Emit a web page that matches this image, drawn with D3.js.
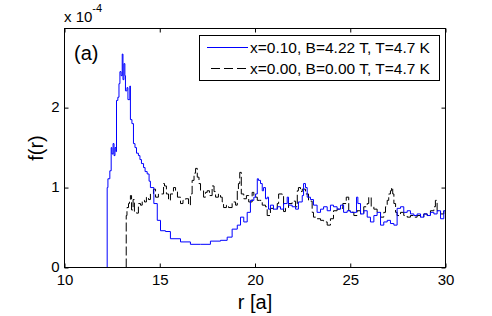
<!DOCTYPE html>
<html>
<head>
<meta charset="utf-8">
<script src="https://cdn.jsdelivr.net/npm/d3@7"></script>
<style>
  body { margin: 0; background: #fff; }
  svg { display: block; font-family: "Liberation Sans", Arial, sans-serif; }
</style>
</head>
<body>
<div id="chart"></div>
<script>
// ========== Data (f in units of 1e-4) ==========
const blueR = [12.24, 12.24, 12.28, 12.38, 12.45, 12.49, 12.55, 12.60, 12.65, 12.70, 12.73, 12.80, 12.86, 12.91, 12.97,
    13.03, 13.07, 13.12, 13.17, 13.20, 13.28, 13.33, 13.43, 13.46, 13.54, 13.62, 13.70, 13.78, 13.88, 13.96, 14.04,
    14.15, 14.23, 14.34, 14.44, 14.51, 14.69, 14.87, 15.04, 15.30, 15.56, 16.09, 16.61, 17.14, 17.66, 18.19, 18.54,
    18.80, 19.07, 19.24, 19.41, 19.59, 19.76, 19.94, 20.03, 20.12, 20.18, 20.29, 20.38, 20.45, 20.55, 20.64, 20.71,
    20.81, 20.97, 21.17, 21.34, 21.50, 21.69, 21.76, 21.95, 22.13, 22.28, 22.48, 22.55, 22.65, 22.74, 22.91, 23.07,
    23.26, 23.44, 23.60, 23.79, 23.96, 24.12, 24.31, 24.49, 24.65, 24.84, 25.01, 25.19, 25.33, 25.40, 25.54, 25.71,
    25.89, 26.06, 26.24, 26.41, 26.59, 26.76, 26.94, 27.11, 27.29, 27.46, 27.64, 27.81, 27.99, 28.16, 28.34, 28.51,
    28.69, 28.86, 29.04, 29.21, 29.39, 29.56, 29.74, 29.91, 30.0];
const blueF = [0, 1.00, 1.11, 1.21, 1.50, 1.42, 1.55, 1.40, 1.50, 1.45, 2.09, 2.13, 2.30, 2.45, 2.40,
    2.67, 2.35, 2.55, 2.40, 2.21, 2.25, 2.10, 2.27, 1.85, 1.80, 1.55, 1.50, 1.43, 1.40, 1.35, 1.30,
    1.25, 1.20, 1.17, 1.08, 1.00, 0.80, 0.59, 0.46, 0.45, 0.36, 0.32, 0.29, 0.29, 0.33, 0.34, 0.38,
    0.48, 0.53, 0.63, 0.57, 0.69, 0.84, 0.88, 0.92, 1.11, 1.09, 1.05, 0.96, 1.00, 0.86, 0.88, 0.73,
    0.78, 0.73, 0.76, 0.73, 0.80, 0.88, 0.78, 0.76, 0.73, 0.82, 0.90, 1.05, 1.00, 0.88, 0.85, 0.78,
    0.69, 0.73, 0.76, 0.71, 0.78, 0.76, 0.73, 0.78, 0.69, 0.71, 0.69, 0.69, 0.88, 0.80, 0.67, 0.71,
    0.63, 0.57, 0.65, 0.69, 0.53, 0.57, 0.59, 0.55, 0.53, 0.74, 0.76, 0.69, 0.71, 0.67, 0.65, 0.67,
    0.63, 0.67, 0.65, 0.69, 0.67, 0.71, 0.61, 0.71, 0.69];

const blackR = [13.24, 13.24, 13.28, 13.36, 13.41, 13.46, 13.52, 13.60, 13.67, 13.78, 13.88, 13.99, 14.08, 14.20, 14.30,
    14.41, 14.51, 14.67, 14.78, 14.93, 15.04, 15.20, 15.25, 15.35, 15.46, 15.56, 15.72, 15.83, 15.93, 16.09, 16.22,
    16.35, 16.51, 16.61, 16.70, 16.80, 16.88, 16.97, 17.06, 17.14, 17.30, 17.40, 17.49, 17.61, 17.75, 17.85, 17.93,
    18.08, 18.19, 18.28, 18.35, 18.50, 18.61, 18.80, 18.98, 19.07, 19.13, 19.20, 19.28, 19.41, 19.55, 19.67, 19.85,
    19.94, 20.12, 20.24, 20.38, 20.55, 20.64, 20.81, 20.97, 21.17, 21.24, 21.43, 21.50, 21.60, 21.76, 21.95, 22.13,
    22.22, 22.28, 22.39, 22.48, 22.65, 22.81, 23.00, 23.07, 23.26, 23.44, 23.60, 23.79, 23.96, 24.12, 24.31, 24.49,
    24.61, 24.79, 24.92, 25.10, 25.19, 25.36, 25.54, 25.71, 25.89, 25.97, 26.10, 26.24, 26.41, 26.59, 26.76, 26.85,
    26.94, 27.02, 27.11, 27.17, 27.23, 27.29, 27.38, 27.46, 27.64, 27.81, 27.99, 28.16, 28.34, 28.51, 28.69, 28.86,
    29.04, 29.21, 29.39, 29.47, 29.56, 29.74, 29.91, 30.0];
const blackF = [0, 0.65, 0.75, 0.80, 0.85, 0.90, 0.72, 0.85, 0.70, 0.68, 0.80, 0.78, 0.84, 0.82, 0.88,
    0.85, 0.92, 0.98, 0.88, 0.92, 0.92, 1.05, 1.02, 0.92, 0.84, 0.92, 1.00, 0.95, 0.88, 0.80, 0.84,
    0.86, 0.78, 0.92, 1.09, 1.18, 1.24, 1.13, 1.05, 0.96, 0.88, 0.94, 0.96, 0.90, 1.02, 0.95, 0.88,
    0.92, 0.88, 0.82, 0.75, 0.78, 0.75, 0.82, 0.78, 0.96, 1.05, 1.19, 0.92, 0.86, 0.90, 0.82, 0.94,
    0.88, 0.84, 0.84, 0.78, 0.76, 0.65, 0.74, 0.73, 0.80, 0.92, 0.91, 0.70, 0.74, 0.80, 0.83, 0.76,
    0.96, 1.00, 0.95, 0.98, 0.92, 0.83, 0.69, 0.63, 0.61, 0.59, 0.57, 0.53, 0.61, 0.71, 0.73, 0.74,
    0.80, 0.88, 0.71, 0.69, 0.65, 0.71, 0.67, 0.76, 0.80, 0.88, 0.76, 0.73, 0.69, 0.63, 0.69, 0.76,
    0.84, 0.92, 0.96, 1.00, 0.92, 0.80, 0.69, 0.65, 0.69, 0.65, 0.63, 0.65, 0.63, 0.65, 0.63, 0.67,
    0.65, 0.71, 0.76, 0.84, 0.71, 0.67, 0.73, 0.61];

const xTicks = [10, 15, 20, 25, 30];
const yTicks = [0, 1, 2];
const seriesLabels = ["x=0.10, B=4.22 T, T=4.7 K", "x=0.00, B=0.00 T, T=4.7 K"];

// ========== Chart ==========
const width = 492, height = 316;
const plot = { left: 64.5, right: 445.5, top: 28.5, bottom: 267.5 };

const svg = d3.select("#chart").append("svg")
    .attr("width", width)
    .attr("height", height);

const x = d3.scaleLinear().domain([10, 30]).range([plot.left, plot.right]);
const y = d3.scaleLinear().domain([0, 2.99]).range([plot.bottom, plot.top]);

// Clip
svg.append("clipPath").attr("id", "clip")
    .append("rect")
    .attr("x", plot.left).attr("y", plot.top)
    .attr("width", plot.right - plot.left).attr("height", plot.bottom - plot.top);

const line = d3.line().x(d => x(d[0])).y(d => y(d[1])).curve(d3.curveStepAfter);

const series = [
    { r: blueR, f: blueF, color: "#0000ff", dash: null },
    { r: blackR, f: blackF, color: "#000000", dash: "9,3" }
];

// black first, blue over it
[series[1], series[0]].forEach(s => {
    svg.append("path")
        .datum(d3.zip(s.r, s.f))
        .attr("clip-path", "url(#clip)")
        .attr("fill", "none")
        .attr("stroke", s.color)
        .attr("stroke-width", 1)
        .attr("stroke-dasharray", s.dash)
        .attr("d", line);
});

// Axes (ticks pointing in)
function styleAxis(g) {
    g.select(".domain").remove();
    g.selectAll(".tick line").attr("stroke", "#000");
    g.selectAll(".tick text").attr("fill", "#000").attr("font-size", 15)
        .attr("font-family", "Liberation Sans, Arial, sans-serif");
}

svg.append("g")
    .attr("transform", `translate(0,${plot.bottom})`)
    .call(d3.axisBottom(x).tickValues(xTicks).tickFormat(d3.format("d"))
        .tickSizeInner(-4).tickSizeOuter(0).tickPadding(7))
    .call(styleAxis);

svg.append("g")
    .attr("transform", `translate(0,${plot.top})`)
    .call(d3.axisTop(x).tickValues(xTicks).tickSizeInner(-4).tickSizeOuter(0).tickFormat(""))
    .call(styleAxis);

svg.append("g")
    .attr("transform", `translate(${plot.left},0)`)
    .call(d3.axisLeft(y).tickValues(yTicks).tickFormat(d3.format("d"))
        .tickSizeInner(-4).tickSizeOuter(0).tickPadding(5))
    .call(styleAxis)
    .selectAll(".tick text").attr("dy", "0.28em");

svg.append("g")
    .attr("transform", `translate(${plot.right},0)`)
    .call(d3.axisRight(y).tickValues(yTicks).tickSizeInner(-4).tickSizeOuter(0).tickFormat(""))
    .call(styleAxis);

// Frame
svg.append("rect")
    .attr("x", plot.left).attr("y", plot.top)
    .attr("width", plot.right - plot.left).attr("height", plot.bottom - plot.top)
    .attr("fill", "none").attr("stroke", "#000").attr("stroke-width", 1);

// Exponent label
const expo = svg.append("text").attr("x", 64).attr("y", 21.5).attr("font-size", 15);
expo.append("tspan").text("x 10");
expo.append("tspan").attr("font-size", 11).attr("dy", -10).text("-4");

// Axis labels
svg.append("text")
    .attr("x", (plot.left + plot.right) / 2).attr("y", 309)
    .attr("text-anchor", "middle").attr("font-size", 20)
    .text("r [a]");

svg.append("text")
    .attr("transform", `translate(43,${(plot.top + plot.bottom) / 2})rotate(-90)`)
    .attr("text-anchor", "middle").attr("font-size", 20)
    .text("f(r)");

// Panel tag
svg.append("text").attr("x", 74).attr("y", 60).attr("font-size", 20).text("(a)");

// Legend
const legend = svg.append("g");
legend.append("rect")
    .attr("x", 199.5).attr("y", 35.5).attr("width", 240).attr("height", 45)
    .attr("fill", "#fff").attr("stroke", "#000").attr("stroke-width", 1);

series.forEach((s, i) => {
    const ly = 47.5 + i * 21;
    legend.append("line")
        .attr("x1", 207).attr("x2", 248).attr("y1", ly).attr("y2", ly)
        .attr("stroke", s.color).attr("stroke-width", 1)
        .attr("stroke-dasharray", s.dash ? "9,4" : null)
        .attr("stroke-dashoffset", s.dash ? -4 : null);
    legend.append("text")
        .attr("x", 250).attr("y", ly).attr("dy", "0.35em")
        .attr("font-size", 15.5)
        .text(seriesLabels[i]);
});
</script>
</body>
</html>
